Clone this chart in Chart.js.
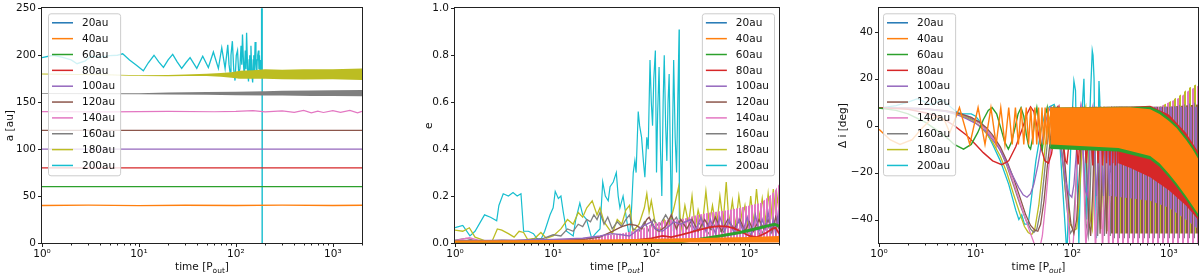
<!DOCTYPE html>
<html><head><meta charset="utf-8">
<script src="https://cdn.jsdelivr.net/npm/chart.js@4.4.1/dist/chart.umd.min.js"></script>
<style>
html,body{margin:0;padding:0;background:#fff;width:1200px;height:276px;overflow:hidden}
canvas{position:absolute;top:0}
</style></head><body>
<canvas id="c1" width="400" height="276" style="left:0px"></canvas>
<canvas id="c2" width="400" height="276" style="left:400px"></canvas>
<canvas id="c3" width="400" height="276" style="left:800px"></canvas>
<script>
// ---------- shared ----------
const labels = ['20au','40au','60au','80au','100au','120au','140au','160au','180au','200au'];
const colors = ['#1f77b4','#ff7f0e','#2ca02c','#d62728','#9467bd','#8c564b','#e377c2','#7f7f7f','#bcbd22','#17becf'];
const xTicks = [1,10,100,1000];
const xTickText = ['10\u2070','10\u00b9','10\u00b2','10\u00b3'];

// ---------- panel 1: a [au] ----------
const aTicks = [0,50,100,150,200,250];
const a20 = [];
const a40 = [[1,40],[3,40.3],[10,39.8],[30,40.2],[100,40],[300,40.3],[1000,40],[2000,40.2]];
const a60 = [[1,60],[2000,60]];
const a80 = [[1,80],[2000,80]];
const a100 = [[1,100],[2000,100]];
const a120 = [[1,120],[2000,120]];
const a140 = [[1,140],[5,139.6],[20,140.3],[60,139.8],[100,140.2],[150,141],[200,139.6],[300,140.8],[400,139.2],[500,141.3],[600,138.6],[700,140.5],[800,139],[1000,141],[1200,139.2],[1500,141.2],[1800,138.6],[2000,140.2]];
const a160_t  = [1,10,20,50,100,200,300,600,1000,2000];
const a160_lo = [158.6,158.5,158.2,157.8,157.5,157.2,157,156.7,156.5,156.3];
const a160_hi = [159.4,159.6,160.3,160.8,161.2,161.7,162.1,162.5,162.8,163];
const a180_t  = [1,5,10,20,30,50,70,90,110,150,200,300,500,1000,2000];
const a180_lo = [179.5,178.8,177.8,177.6,177.8,177.8,177,176,175,175,175,174.5,174.2,174.5,173.5];
const a180_hi = [180.5,179.6,178.8,179,179.5,180.2,181,182,183.5,184,185,184.5,185,185,186];
const a200 = [[1,197.5],[1.3,200],[1.6,198],[2,195],[2.3,191],[2.8,194],[3.2,199],[4,198],[5,199.5],[6,200],[6.8,201.5],[8,195],[9.5,189],[11.1,183.5],[12.5,192],[14.3,200],[16,193],[17.9,187],[20,195],[22.3,201],[24.8,193],[27.6,186],[30.5,192],[33.7,197.5],[39.5,186],[45.5,199],[52,187],[58.6,203.5],[66,186],[71.5,208],[77.4,186],[82.5,211],[85,190],[87,182],[89,200],[92,215],[95,185],[98,173],[101,200],[104,205],[107,180],[110,186],[113,210],[115,190],[117,222],[120,190],[122,178],[125,205],[127,185],[129,224],[132,185],[135,172],[137,195],[139,200],[141,178],[143,210],[146,180],[149,171],[151,195],[153,200],[155,180],[158,214],[161,190],[164,176],[166,195],[168,200],[171,205],[173,185],[175,200],[178,178],[181,195],[184,182],[186,5000],[187,-5000]];

// ---------- panel 2: e ----------
const eTicks = [0,0.2,0.4,0.6,0.8,1.0];
const e20 = [];
const e40_t  = [1,3,10,30,100,300,1000,2000];
const e40_lo = [0.001,0.001,0.001,0.001,0.002,0.002,0.002,0.002];
const e40_hi = [0.011,0.012,0.013,0.015,0.018,0.021,0.026,0.03];
const e60 = [[1,0.003],[10,0.003],[100,0.004],[200,0.006],[300,0.015],[500,0.03],[800,0.045],[1200,0.062],[1600,0.075],[1800,0.08],[2000,0.072]];
const e80 = [[1,0.004],[30,0.006],[60,0.01],[100,0.02],[130,0.03],[160,0.025],[200,0.035],[250,0.045],[300,0.055],[400,0.068],[500,0.072],[600,0.07],[700,0.062],[850,0.045],[1000,0.03],[1200,0.025],[1500,0.045],[1700,0.06],[1850,0.065],[2000,0.04]];
const e100 = [[1,0.01],[5,0.012],[10,0.015],[20,0.02],[30,0.03],[40,0.04],[50,0.035],[60,0.03],[70,0.05],[80,0.07],[90,0.08],[100,0.09],[110,0.06],[130,0.05],[150,0.07],[170,0.09],[200,0.08],[250,0.1],[280,0.05],[320,0.11],[360,0.05],[400,0.1],[450,0.04],[500,0.11],[560,0.05],[620,0.1],[700,0.04],[780,0.1],[860,0.05],[950,0.11],[1050,0.04],[1150,0.12],[1250,0.05],[1350,0.1],[1450,0.06],[1550,0.13],[1650,0.05],[1750,0.1],[1850,0.04],[1950,0.12],[2000,0.07]];
const e120 = [[1,0.01],[10,0.01],[20,0.015],[30,0.025],[40,0.05],[50,0.07],[60,0.08],[70,0.075],[80,0.06],[90,0.1],[95,0.11],[100,0.09],[110,0.06],[120,0.05],[140,0.07],[160,0.12],[170,0.09],[180,0.06],[200,0.1],[230,0.06],[260,0.1],[300,0.05],[350,0.1],[400,0.06],[450,0.11],[520,0.05],[600,0.1],[700,0.06],[800,0.1],[900,0.05],[1000,0.09],[1100,0.05],[1250,0.1],[1400,0.06],[1550,0.1],[1700,0.05],[1850,0.11],[2000,0.06]];
const e140 = [[1,0.01],[1.4,0.022],[1.8,0.01],[3,0.01],[10,0.012],[20,0.015]];
const e140_t  = [20,30,50,80,100,150,200,300,400,600,800,1000,1300,1600,1800,2000];
const e140_lo = [0.003,0.004,0.006,0.01,0.012,0.015,0.018,0.02,0.02,0.02,0.02,0.02,0.02,0.02,0.02,0.02];
const e140_hi = [0.02,0.03,0.04,0.06,0.08,0.1,0.1,0.12,0.13,0.14,0.15,0.16,0.17,0.2,0.22,0.25];
const e160 = [[1,0.012],[1.3,0.02],[1.6,0.01],[2,0.008],[3,0.012],[4,0.01],[6,0.015],[8,0.02],[10,0.035],[12,0.03],[14,0.06],[16,0.05],[18,0.08],[20,0.07],[22,0.1],[24,0.09],[26,0.12],[28,0.1],[30,0.13],[33,0.08],[36,0.11],[40,0.06],[45,0.09],[50,0.07],[55,0.1],[60,0.12],[65,0.06],[75,0.05],[85,0.09],[95,0.05],[105,0.1],[120,0.07],[140,0.12],[160,0.08],[180,0.11],[200,0.07],[230,0.1],[270,0.05],[320,0.09],[380,0.04],[450,0.08],[530,0.04],[620,0.09],[720,0.04],[850,0.08],[1000,0.03],[1150,0.07],[1300,0.03],[1500,0.08],[1700,0.04],[1900,0.09],[2000,0.05]];
const e180 = [[1,0.055],[1.2,0.05],[1.4,0.065],[1.6,0.025],[2,0.01],[2.4,0.01],[2.7,0.06],[3,0.055],[3.5,0.04],[4,0.025],[4.5,0.05],[5,0.045],[5.5,0.015],[6.5,0.02],[7.5,0.045],[8.5,0.02],[10,0.03],[12,0.06],[14,0.1],[16,0.08],[18,0.13],[20,0.11],[22,0.15],[25,0.18],[28,0.12],[30,0.15],[33,0.09],[37,0.06],[40,0.04],[45,0.1],[50,0.08],[55,0.14],[60,0.16],[65,0.05],[75,0.08],[85,0.15],[90,0.21],[95,0.13],[100,0.18],[110,0.08],[120,0.04],[135,0.1],[150,0.07],[170,0.15],[190,0.24],[200,0.05],[220,0.16],[240,0.08],[260,0.2],[280,0.06],[300,0.14],[330,0.07],[360,0.22],[390,0.08],[420,0.16],[460,0.06],[500,0.2],[540,0.09],[580,0.26],[620,0.08],[670,0.18],[720,0.07],[780,0.2],[840,0.1],[900,0.16],[960,0.07],[1030,0.2],[1100,0.08],[1180,0.23],[1260,0.1],[1350,0.19],[1450,0.09],[1550,0.21],[1650,0.1],[1750,0.23],[1850,0.12],[1950,0.2],[2000,0.15]];
const e200 = [[1,0.065],[1.2,0.075],[1.42,0.03],[1.6,0.05],[2,0.12],[2.3,0.11],[2.66,0.095],[2.8,0.16],[3.1,0.21],[3.5,0.2],[3.9,0.215],[4.3,0.2],[4.7,0.21],[5,0.05],[5.6,0.05],[6.3,0.04],[6.8,0.02],[7.4,0.01],[8.2,0.05],[9.3,0.12],[10,0.15],[10.5,0.22],[11.3,0.19],[12,0.2],[12.7,0.13],[13.7,0.05],[16,0.03],[17,0.1],[18.7,0.17],[20,0.12],[21.9,0.1],[24.7,0.02],[27,0.04],[30,0.06],[32,0.26],[34,0.2],[36.4,0.18],[38,0.24],[41,0.26],[44,0.3],[46,0.2],[47.9,0.15],[51.6,0.2],[56,0.1],[60,0.02],[63,0.15],[65.5,0.3],[68,0.35],[70,0.3],[73.6,0.56],[76,0.5],[79.6,0.45],[83,0.35],[86,0.28],[90,0.45],[93,0.4],[97,0.78],[100,0.6],[103,0.5],[106,0.7],[110,0.82],[113,0.3],[116,0.55],[120,0.75],[124,0.4],[128,0.2],[132,0.6],[135.5,0.8],[140,0.5],[144,0.35],[148,0.6],[152,0.72],[156,0.4],[161,0.05],[165,0.5],[169,0.78],[175,0.45],[181,0.3],[186,0.6],[192,0.91],[193,0.1]];

// ---------- panel 3: delta i [deg] ----------
const iTicks = [-40,-20,0,20,40];
const i20 = [];
const i40 = [[1,-1.5],[1.3,-6],[1.65,-8],[2.2,-6],[2.8,-1],[3.5,3],[4.2,4],[4.8,2],[5.4,-3],[5.9,1],[6.8,7.7],[8.7,-8],[10.6,7.7],[12.5,-8],[14.4,7.7],[16.3,-8],[18.2,7.7],[20.1,-8],[22,7.7],[23.9,-8],[25.8,7.7],[27.7,-8],[29.6,7.7],[31.5,-8],[33.4,7.7],[35.3,-8],[37.2,7.7],[39.1,-8],[41,7.7],[42.9,-8],[44.8,7.7],[46.7,-8],[48.6,7.7],[50.5,-8],[52.4,7.7],[54.3,-8],[56.2,7.7],[58.1,-8],[60,7.7]];
const i40_t  = [60,300,400,640,800,1000,1200,1500,1750,2000];
const i40_lo = [-8,-9.5,-10.8,-12.9,-16,-20.5,-24.5,-30,-34,-37.5];
const i40_hi = [7.7,7.8,7.8,7,5,2,-1,-6,-10,-14];
const i60 = [[1,7.5],[1.5,6.5],[2,5],[3,1.5],[4,-2],[5,-5],[6,-8],[7.5,-10],[9,-8],[10.5,-3],[12,2.5],[13.5,6.5],[14.8,7.7],[16.5,5],[18.5,-2],[20,-7],[21.8,-10],[23.5,-7],[25.5,-1],[27.5,5],[29.5,7.7],[31.5,4],[33.5,-4],[35.5,-9],[37,-10],[39,-5],[41,3],[43,7.7],[45,2],[47,-7],[49,-10],[51,-4],[53,5],[55,7.7],[57,0],[59,-9],[61,-10]];
const i60_t  = [60,300,400,640,800,1000,1200,1500,1750,2000];
const i60_lo = [-10,-11,-12.3,-14.4,-17.5,-22,-26,-31.5,-35.5,-39];
const i60_hi = [7.7,8,8,8,6.3,3.3,0.3,-4.6,-8.5,-12.5];
const i80 = [[1,7.7],[2,7],[3,5.5],[4,4],[5,2],[6,0],[8,-4],[10,-8],[12,-11.5],[15,-15],[18.6,-16.6],[22,-15],[26,-9],[30,-2],[34,5],[37,8],[40,6],[44,-2],[48,-10],[52,-15],[56.6,-16],[61,-12],[65,-4],[69,4],[73,8],[77,3],[81,-8],[85,-15],[88,-16],[101,8],[115,-16.5],[128,8],[140,-16],[152,8],[163,-17],[174,8],[185,-16],[196,8],[206,-17],[216,8],[226,-16],[236,8],[245,-17],[254,8],[263,-16],[272,8],[280,-17],[289,8],[297,-16],[305,8]];
const i80_t  = [300,400,640,1000,1500,2000];
const i80_lo = [-16,-18,-22,-27.5,-34,-40];
const i80_hi = [8,8,8.5,4.8,-3,-11];
const i100 = [[1,7.7],[2,7.4],[3,7],[4,6.5],[5,6],[6,5],[7,4],[8,3],[10,1],[12,-1.5],[14,-4.5],[17,-9],[20,-14],[24,-21],[28,-26.5],[31,-29.5],[34,-30.5],[37,-29],[40,-25],[44,-17],[48,-8],[52,0],[56,5.5],[60,8],[64,7],[68,3],[74,-6],[80,-16],[86,-24],[92,-29],[99,-30.5],[104,-25],[110,-12],[116,2],[122,8],[129,-10],[137,-28],[143,-30],[150,-15],[157,5],[163,8],[170,-12],[178,-30],[186,-15],[194,8],[202,-10],[210,-30],[218,-12],[226,8],[234,-10],[242,-30],[250,-10]];
const i100_t  = [250,640,1000,1500,2000];
const i100_lo = [-30,-32,-35,-40,-44];
const i100_hi = [8,8,8,8,8];
const i120 = [[1,7.7],[3,7.2],[5,6.3],[7,5],[9,3.5],[11,1.5],[13,-1],[15,-4],[18,-9],[21,-15],[25,-23],[29,-31],[33,-38],[37,-42.5],[41,-44.5],[44,-45],[47,-42],[51,-32],[55,-18],[60,-4],[65,6],[70,8],[76,2],[83,-14],[90,-30],[97,-42],[104,-46],[111,-40],[118,-22],[125,-3],[132,8],[140,-15],[148,-40],[155,-47],[162,-30],[170,-5],[178,8],[186,-20],[194,-46],[202,-25],[210,8],[218,-20],[226,-46],[234,-20],[242,8],[250,-20]];
const i120_t  = [250,1000,2000];
const i120_lo = [-46,-46,-46];
const i120_hi = [8,8,9];
const i140 = [[1,7.7],[3,7.2],[5,6.3],[7,5],[9,3.5],[11,1],[13,-2],[15,-5],[18,-10],[21,-16],[25,-25],[29,-33],[33,-40],[37,-46],[41,-51],[45,-54],[49,-47],[53,-33],[57,-18],[62,-4],[67,5],[72,8],[78,0],[86,-25],[94,-50],[100,-56],[106,-40],[112,-15],[118,3],[124,8],[131,-20],[138,-52],[145,-40],[152,-10],[159,8],[166,-20],[174,-55],[182,-25],[190,8],[198,-25],[206,-55],[214,-25],[222,8],[230,-25],[238,-55],[246,-25],[254,8],[260,-10]];
const i140_t  = [255,800,1000,1300,1600,2000];
const i140_lo = [-55,-55,-55,-55,-55,-55];
const i140_hi = [8,8,10,12,15,17];
const i160 = [[1,7.7],[3,7.2],[5,6.2],[7,5],[9,3],[11,1],[13,-2],[15,-5],[18,-10.5],[21,-17],[25,-26],[29,-34],[33,-40],[37,-44],[40,-45.5],[43,-44],[47,-36],[51,-22],[55,-8],[60,3],[65,8],[72,3],[80,-15],[88,-35],[95,-46],[102,-44],[109,-25],[116,-3],[123,8],[131,-15],[139,-42],[146,-47],[153,-28],[160,-2],[167,8],[175,-20],[183,-47],[191,-22],[199,8],[207,-22],[215,-47],[223,-20],[231,8],[239,-22],[247,-47],[252,-25]];
const i160_t  = [250,1000,2000];
const i160_lo = [-48,-48,-48];
const i160_hi = [8,8,10];
const i180 = [[1,7.7],[3,7],[5,6],[7,4.5],[9,2.5],[11,0],[13,-3.5],[15,-7],[18,-13],[21,-20],[25,-30],[29,-38],[32,-43],[35,-45.5],[38,-46.4],[41,-44],[45,-34],[49,-20],[53,-7],[58,3],[64,8],[70,3],[78,-12],[86,-30],[95,-42],[104,-44.5],[111,-44],[118,-32],[125,-12],[132,5],[138,8],[146,-15],[154,-40],[161,-44],[168,-25],[175,0],[182,8],[190,-18],[198,-44],[206,-25],[214,8],[222,-18],[230,-45],[238,-20],[246,8],[254,-18],[262,-45],[270,-20],[280,8]];
const i180_t  = [270,800,1000,1300,1600,2000];
const i180_lo = [-46,-46,-46,-46,-46,-46];
const i180_hi = [8,8,10,13,16,18];
const i200 = [[1,7.5],[1.5,8.5],[2,10],[2.5,11.5],[3,10],[3.5,9],[4.5,11],[5.5,8],[6.5,5.5],[7.5,5],[9,5],[10,4],[12,0],[15,-8],[18,-15],[22,-25],[26,-36],[28,-40],[30,-38],[32,-42],[35,-42],[38,-30],[42,-15],[47,-3],[52,5],[58,8],[65,9],[70,5],[75,-10],[82,-35],[88,-55],[94,-20],[100,5],[104,19],[108,15],[112,-20],[117,-50],[122,-20],[127,8],[132,20],[137,-10],[142,-40],[148,-10],[155,15],[161,32],[164,30],[168,20],[172,-15],[178,-48],[183,-20],[189,19],[193,10],[197,-20],[200,-40]];

// ---------- helpers ----------
const FONT = '"DejaVu Sans", sans-serif';
function pts(a){ return a.map(p => ({x:p[0], y:p[1]})); }
function lineDS(a, color, w){ return {data: pts(a), borderColor: color, borderWidth: w || 1.4, pointRadius: 0, fill: false, clip: 0, tension: 0}; }
function bandDS(t, lo, hi, fillStyle){
  return [
    {data: t.map((x,i)=>({x:x, y:lo[i]})), borderColor:'rgba(0,0,0,0)', borderWidth:1, pointRadius:0, fill:false, clip:0},
    {data: t.map((x,i)=>({x:x, y:hi[i]})), borderColor:'rgba(0,0,0,0)', borderWidth:1, backgroundColor: fillStyle, pointRadius:0, fill:'-1', clip:0}
  ];
}
function stripe(color, period, width, offset){
  const c = document.createElement('canvas'); c.width = period; c.height = 1;
  const g = c.getContext('2d'); g.fillStyle = color;
  for (let i=0;i<width;i++) g.fillRect((offset+i)%period, 0, 1, 1);
  return g.createPattern(c, 'repeat');
}

const framePlugin = {
  id: 'frame',
  afterDraw(chart){
    const {ctx, chartArea: ca, scales} = chart;
    ctx.save();
    ctx.strokeStyle = '#222'; ctx.lineWidth = 1;
    ctx.strokeRect(Math.round(ca.left)-0.5, Math.round(ca.top)-0.5, Math.round(ca.right-ca.left)+1, Math.round(ca.bottom-ca.top)+1);
    const b = Math.round(ca.bottom)+0.5;
    ctx.beginPath();
    for (let k=0;k<4;k++){
      const d = Math.pow(10,k);
      for (let m=1;m<=9;m++){
        const v = m*d; if (v>2000) break;
        const x = Math.round(scales.x.getPixelForValue(v)) + 0.5;
        const L = (m===1) ? 3.5 : 2;
        ctx.moveTo(x, b); ctx.lineTo(x, b+L);
      }
    }
    scales.y.ticks.forEach(t => {
      const y = Math.round(scales.y.getPixelForValue(t.value)) + 0.5;
      const l = Math.round(ca.left) - 0.5;
      ctx.moveTo(l, y); ctx.lineTo(l-3.5, y);
    });
    ctx.stroke();
    ctx.restore();
  }
};
const legendPlugin = {
  id: 'boxLegend',
  afterDatasetsDraw(chart, args, o){
    const {ctx, chartArea: ca} = chart;
    ctx.save();
    ctx.font = '10.5px ' + FONT;
    let mw = 0; labels.forEach(l => mw = Math.max(mw, ctx.measureText(l).width));
    const w = 34 + mw + 5, h = 162;
    const x0 = o.side === 'right' ? ca.right - o.dx - w : ca.left + o.dx;
    const y0 = ca.top + 5;
    ctx.beginPath();
    if (ctx.roundRect) ctx.roundRect(x0+0.5, y0+0.5, w, h, 2.5); else ctx.rect(x0+0.5, y0+0.5, w, h);
    ctx.fillStyle = 'rgba(255,255,255,0.8)'; ctx.fill();
    ctx.strokeStyle = '#cccccc'; ctx.lineWidth = 1; ctx.stroke();
    ctx.textBaseline = 'middle'; ctx.textAlign = 'left';
    labels.forEach((l,i) => {
      const y = y0 + 9.5 + i*15.85;
      ctx.strokeStyle = colors[i]; ctx.lineWidth = 1.5;
      ctx.beginPath(); ctx.moveTo(x0+4, y); ctx.lineTo(x0+25, y); ctx.stroke();
      ctx.fillStyle = '#111'; ctx.fillText(l, x0+34, y+0.5);
    });
    ctx.restore();
  }
};
const xTitlePlugin = {
  id: 'xTitle',
  afterDraw(chart, args, o){
    const {ctx, chartArea: ca} = chart;
    ctx.save();
    const f1 = '10.5px ' + FONT, f2 = (o.italic ? 'italic ' : '') + '7.5px ' + FONT;
    const p1 = 'time [P', p2 = 'out', p3 = ']';
    ctx.font = f1; const w1 = ctx.measureText(p1).width, w3 = ctx.measureText(p3).width;
    ctx.font = f2; const w2 = ctx.measureText(p2).width;
    let x = (ca.left + ca.right)/2 - (w1+w2+w3)/2;
    ctx.fillStyle = '#111'; ctx.textBaseline = 'alphabetic'; ctx.textAlign = 'left';
    ctx.font = f1; ctx.fillText(p1, x, 269.5); x += w1;
    ctx.font = f2; ctx.fillText(p2, x, 272.5); x += w2;
    ctx.font = f1; ctx.fillText(p3, x, 269.5);
    ctx.restore();
  }
};

function makeChart(id, datasets, cfg){
  return new Chart(document.getElementById(id), {
    type: 'line',
    data: {datasets: datasets},
    options: {
      responsive: false, animation: false, devicePixelRatio: 1, events: [],
      layout: {padding: {left: 0, right: cfg.padR, top: 5, bottom: 0}},
      elements: {point: {radius: 0}, line: {tension: 0}},
      plugins: {legend: {display: false}, tooltip: {enabled: false},
        boxLegend: cfg.legend, xTitle: {italic: cfg.italic}, filler: {propagate: false}},
      scales: {
        x: {type: 'logarithmic', min: 1, max: 2000, position: 'bottom',
          afterFit: s => { s.height = 33; },
          afterBuildTicks: s => { s.ticks = xTicks.map(v => ({value: v})); },
          ticks: {autoSkip: false, maxRotation: 0, padding: 2, color: '#111',
            font: {family: FONT, size: 10.5, lineHeight: 1},
            callback: v => { const k = xTicks.indexOf(v); return k >= 0 ? xTickText[k] : ''; }},
          grid: {display: true, drawOnChartArea: false, drawTicks: true, tickLength: 4, color: 'rgba(0,0,0,0)'},
          border: {display: false}},
        y: {type: 'linear', min: cfg.ymin, max: cfg.ymax, position: 'left',
          afterFit: s => { s.width = cfg.yw; },
          afterBuildTicks: s => { s.ticks = cfg.yticks.map(v => ({value: v})); },
          ticks: {padding: 2, color: '#111', font: {family: FONT, size: 10.5},
            callback: cfg.yfmt},
          title: {display: true, text: cfg.ytitle, color: '#111', font: {family: FONT, size: 10.5, lineHeight: 1.2},
            padding: {top: cfg.ytpad, bottom: 0}},
          grid: {display: true, drawOnChartArea: false, drawTicks: true, tickLength: 4, color: 'rgba(0,0,0,0)'},
          border: {display: false}}
      }
    },
    plugins: [framePlugin, legendPlugin, xTitlePlugin]
  });
}

// In every panel the first series ends up on top (Chart.js default dataset order).
// ---------- panel 1 ----------
const ds1 = [
  lineDS(a20, colors[0]),
  lineDS(a40, colors[1]),
  lineDS(a60, colors[2]),
  lineDS(a80, colors[3]),
  lineDS(a100, colors[4]),
  lineDS(a120, colors[5]),
  lineDS(a140, colors[6], 1.2),
  ...bandDS(a160_t, a160_lo, a160_hi, colors[7]),
  ...bandDS(a180_t, a180_lo, a180_hi, colors[8]),
  lineDS(a200, colors[9], 1.3)
];
makeChart('c1', ds1, {padR: 38, yw: 42, ymin: 0, ymax: 250, yticks: aTicks, ytitle: 'a [au]', ytpad: 3.5,
  yfmt: v => String(v), legend: {side: 'left', dx: 6}, italic: false});

// ---------- panel 2 ----------
const ds2 = [
  lineDS(e20, colors[0]),
  ...bandDS(e40_t, e40_lo, e40_hi, colors[1]),
  lineDS(e60, colors[2], 3),
  lineDS(e80, colors[3], 1.8),
  lineDS(e100, colors[4], 1.4),
  lineDS(e120, colors[5], 1.4),
  lineDS(e140, colors[6], 1.4),
  ...bandDS(e140_t, e140_lo, e140_hi, stripe(colors[6], 3, 2, 0)),
  lineDS(e160, colors[7], 1.3),
  lineDS(e180, colors[8], 1.3),
  lineDS(e200, colors[9], 1.2)
];
makeChart('c2', ds2, {padR: 21, yw: 55, ymin: 0, ymax: 1, yticks: eTicks, ytitle: 'e', ytpad: 23,
  yfmt: v => Number(v).toFixed(1), legend: {side: 'right', dx: 5}, italic: true});

// ---------- panel 3 ----------
const ds3 = [
  lineDS(i20, colors[0]),
  lineDS(i40, colors[1], 1.4),
  ...bandDS(i40_t, i40_lo, i40_hi, colors[1]),
  lineDS(i60, colors[2], 1.4),
  ...bandDS(i60_t, i60_lo, i60_hi, colors[2]),
  lineDS(i80, colors[3], 1.4),
  ...bandDS(i80_t, i80_lo, i80_hi, colors[3]),
  lineDS(i100, colors[4], 1.3),
  ...bandDS(i100_t, i100_lo, i100_hi, stripe(colors[4], 5, 2, 0)),
  lineDS(i120, colors[5], 1.3),
  ...bandDS(i120_t, i120_lo, i120_hi, stripe(colors[5], 5, 2, 1)),
  lineDS(i140, colors[6], 1.3),
  ...bandDS(i140_t, i140_lo, i140_hi, stripe(colors[6], 5, 2, 2)),
  lineDS(i160, colors[7], 1.3),
  ...bandDS(i160_t, i160_lo, i160_hi, stripe(colors[7], 5, 2, 3)),
  lineDS(i180, colors[8], 1.3),
  ...bandDS(i180_t, i180_lo, i180_hi, stripe(colors[8], 5, 2, 4)),
  lineDS(i200, colors[9], 1.3)
];
makeChart('c3', ds3, {padR: 2, yw: 79, ymin: -50, ymax: 50, yticks: iTicks, ytitle: '\u0394 i [deg]', ytpad: 36.5,
  yfmt: v => String(v).replace('-', '\u2212'), legend: {side: 'left', dx: 4}, italic: true});
</script>
</body></html>
